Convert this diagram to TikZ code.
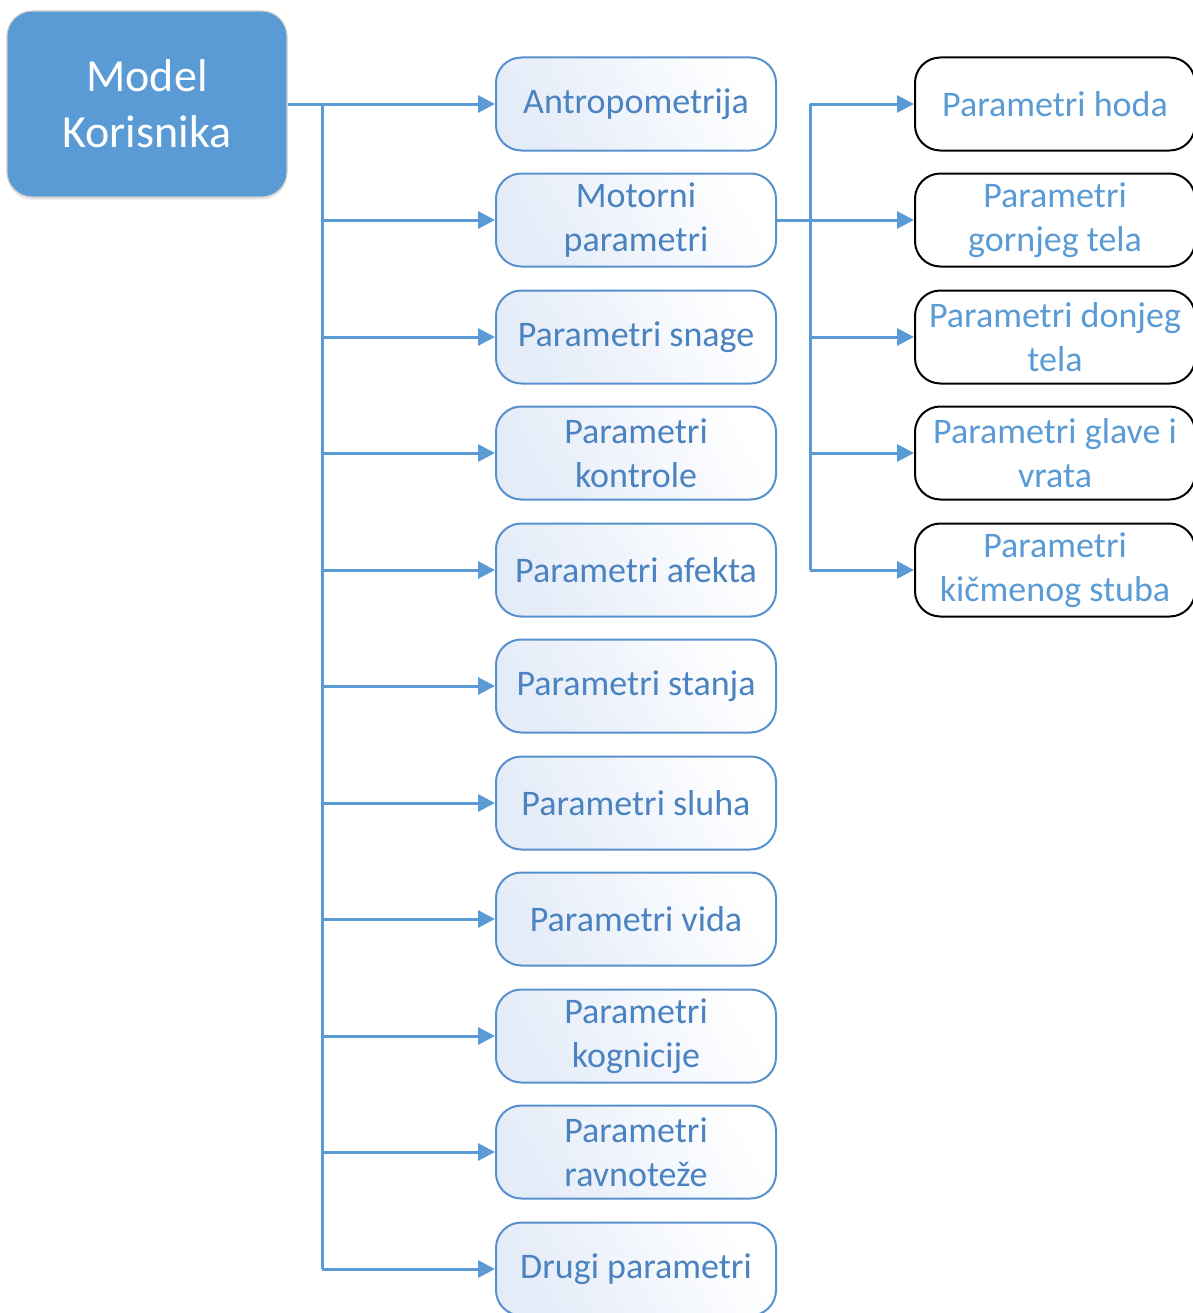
\documentclass[tikz,border=0pt]{standalone}
\usepackage{fontspec}
\setmainfont{Carlito}
\usetikzlibrary{arrows.meta,shadows}
\definecolor{mblue}{HTML}{5B9BD5}
\definecolor{tblue}{HTML}{4B82C0}
\definecolor{bborder}{HTML}{5690CD}
\definecolor{lfill}{HTML}{E4ECF8}
\begin{document}
\begin{tikzpicture}[x=0.75pt,y=-0.75pt,
  model/.style={draw=gray!40, line width=0.8pt, fill=mblue, rounded corners=19pt,
    minimum width=210pt, minimum height=139.5pt, inner sep=0pt, align=center,
    text=white, font=\fontsize{34.5}{42}\selectfont,
    drop shadow={opacity=0.18, shadow xshift=0pt, shadow yshift=-2pt}},
  midbox/.style={draw=bborder, line width=1.5pt, rounded corners=19pt,
    minimum width=210pt, minimum height=69.75pt, inner sep=0pt, align=center,
    text=tblue, font=\fontsize{27}{33}\selectfont,
    left color=lfill, right color=white, shading angle=120},
  rightbox/.style={draw=black, line width=1.5pt, rounded corners=19pt, fill=white,
    minimum width=210pt, minimum height=69.75pt, inner sep=0pt, align=center,
    text=mblue, font=\fontsize{27}{33}\selectfont},
  conn/.style={draw=mblue, line width=2.25pt},
  arr/.style={conn, -{Triangle[length=12.75pt, width=12.75pt]}}
]
\useasboundingbox (0,0) rectangle (1192,1313);

\node[model] (model) at (147,104) {Model\\Korisnika};

\node[midbox] (m1)  at (636,104)  {Antropometrija};
\node[midbox] (m2)  at (636,220)  {Motorni\\parametri};
\node[midbox] (m3)  at (636,337)  {Parametri snage};
\node[midbox] (m4)  at (636,453)  {Parametri\\kontrole};
\node[midbox] (m5)  at (636,570)  {Parametri afekta};
\node[midbox] (m6)  at (636,686)  {Parametri stanja};
\node[midbox] (m7)  at (636,803)  {Parametri sluha};
\node[midbox] (m8)  at (636,919)  {Parametri vida};
\node[midbox] (m9)  at (636,1036) {Parametri\\kognicije};
\node[midbox] (m10) at (636,1152) {Parametri\\ravnoteže};
\node[midbox] (m11) at (636,1269) {Drugi parametri};

\node[rightbox] (r1) at (1055,104) {Parametri hoda};
\node[rightbox] (r2) at (1055,220) {Parametri\\gornjeg tela};
\node[rightbox] (r3) at (1055,337) {Parametri donjeg\\tela};
\node[rightbox] (r4) at (1055,453) {Parametri glave i\\vrata};
\node[rightbox] (r5) at (1055,570) {Parametri\\kičmenog stuba};

\coordinate (tr) at (322,104);
\coordinate (tr2) at (810,104);

% main trunk
\draw[conn] (model.east) -- (tr) -- (tr |- m11.west);
\foreach \i in {1,...,11} {
  \draw[arr] (tr |- m\i.west) -- (m\i.west);
}

% second trunk
\draw[conn] (tr2) -- (tr2 |- r5.west);
\draw[arr] (m2.east) -- (r2.west);
\foreach \i in {1,3,4,5} {
  \draw[arr] (tr2 |- r\i.west) -- (r\i.west);
}
\end{tikzpicture}
\end{document}
